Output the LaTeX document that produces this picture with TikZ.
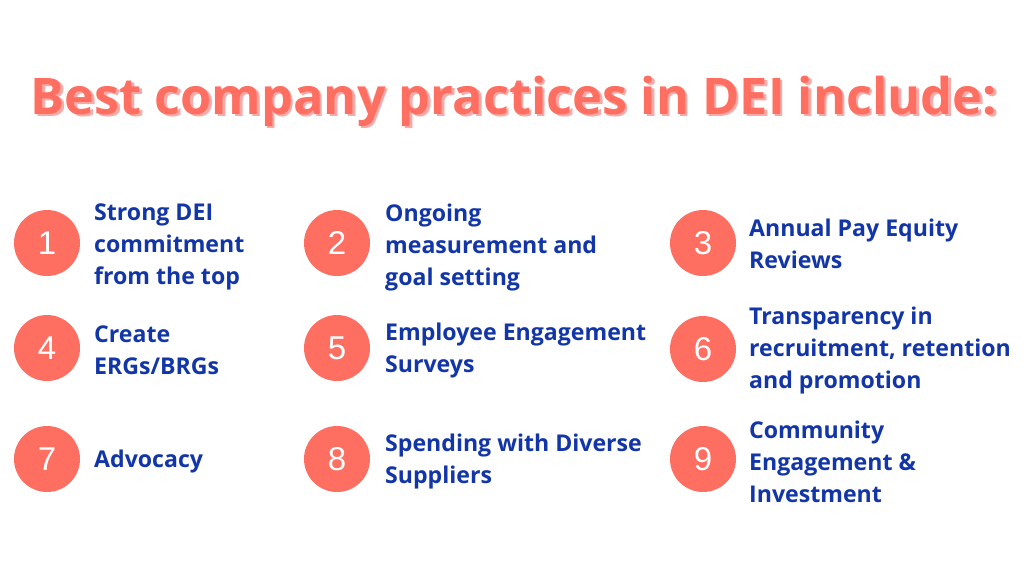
\documentclass[tikz,border=0pt]{standalone}
\usepackage{fontspec}
\setmainfont{Open Sans}
\newfontfamily\numfont{Liberation Sans}
\definecolor{coral}{HTML}{FF6F61}
\definecolor{shade}{HTML}{F8AAA8}
\definecolor{navy}{HTML}{1235A8}
\begin{document}
\begin{tikzpicture}[x=1pt,y=-1pt,
  numdot/.style={circle,fill=coral,minimum size=66pt,inner sep=0pt,text=white,font=\numfont\fontsize{33}{33}\selectfont},
  item/.style={anchor=west,align=left,text=navy,inner sep=0pt,font=\bfseries\fontsize{23.1}{32}\selectfont},
  titletext/.style={font=\bfseries\fontsize{50.5}{58}\selectfont,inner sep=0pt}]
\useasboundingbox[fill=white] (0,0) rectangle (1024,576);
\node[titletext,text=shade] (tshadow) at (516.5,103.5) {Best company practices in DEI include:};
\node[titletext,text=coral] (title) at (514,101) {Best company practices in DEI include:};
\node[numdot] (c1) at (47,243) {1};
\node[numdot] (c2) at (337,243) {2};
\node[numdot] (c3) at (703,243) {3};
\node[numdot] (c4) at (47,348) {4};
\node[numdot] (c5) at (337,348) {5};
\node[numdot] (c6) at (703,349) {6};
\node[numdot] (c7) at (47,459) {7};
\node[numdot] (c8) at (337,459) {8};
\node[numdot] (c9) at (703,459) {9};
\node[item] (t1) at (94,247) {Strong DEI\\commitment\\from the top};
\node[item] (t2) at (385,247) {Ongoing\\measurement and\\goal setting};
\node[item] (t3) at (749,244) {Annual Pay Equity\\Reviews};
\node[item] (t4) at (94,350) {Create\\ERGs/BRGs};
\node[item] (t5) at (385,350) {Employee Engagement\\Surveys};
\node[item] (t6) at (749,350) {Transparency in\\recruitment, retention\\and promotion};
\node[item] (t7) at (94,461) {Advocacy};
\node[item] (t8) at (385,461) {Spending with Diverse\\Suppliers};
\node[item] (t9) at (749,462) {Community\\Engagement \&\\Investment};
\end{tikzpicture}
\end{document}
